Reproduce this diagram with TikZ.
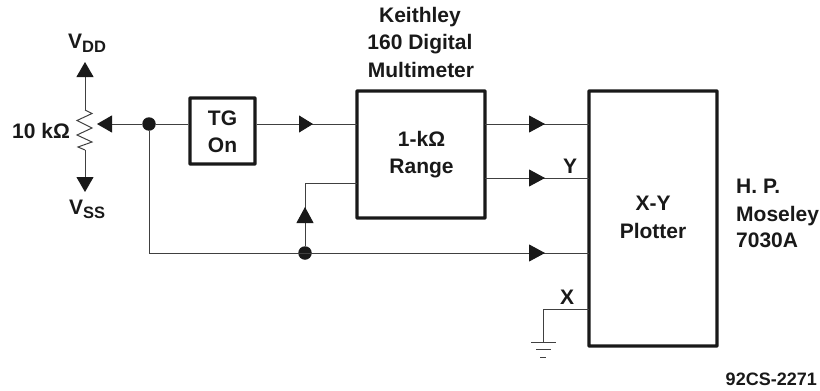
\documentclass[tikz,border=0pt]{standalone}
\usepackage{fontspec}
\setmainfont{Liberation Sans}
\usetikzlibrary{arrows.meta,calc}
\newfontfamily\regfont{Liberation Sans}
\newcommand{\Ohm}{{\regfont Ω}}
\newcommand{\Vsub}[1]{V\raisebox{-4.5pt}{\fontsize{16.5}{20}\selectfont\bfseries #1}}
\tikzset{
  wire/.style={line width=1pt,draw=black!75},
  blockbox/.style={draw=black!90,line width=3.2pt,inner sep=0pt,rounded corners=0.5pt},
  lbl/.style={font=\fontsize{21}{25}\selectfont\bfseries,text=black!90,inner sep=0pt,anchor=base},
  dotn/.style={circle,fill=black!90,draw=none,minimum size=13.5pt,inner sep=0pt},
  head/.style={wire,-{Triangle[length=#1,width=17pt,fill=black!90,color=black!90]}},
  head/.default=15pt
}
\begin{document}
\begin{tikzpicture}[x=1pt,y=-1pt]
\useasboundingbox (0,0) rectangle (820,391);
% boxes
\node[blockbox,minimum width=65pt,minimum height=66pt] (tg) at (222.5,131) {};
\node[blockbox,minimum width=128pt,minimum height=127pt] (range) at (421,154.5) {};
\node[blockbox,minimum width=128pt,minimum height=255pt] (plot) at (653,218.5) {};
% text
\node[lbl] (tga) at (222.5,125) {TG};
\node[lbl] (tgb) at (222.5,152) {On};
\node[lbl] (r1) at (421.5,146) {1-k\Ohm};
\node[lbl] (r2) at (421.5,173) {Range};
\node[lbl] (p1) at (653,210) {X-Y};
\node[lbl] (p2) at (653,238) {Plotter};
\node[lbl] (k1) at (420,22) {Keithley};
\node[lbl] (k2) at (420,49) {160 Digital};
\node[lbl] (k3) at (421,77) {Multimeter};
\node[lbl,anchor=base west] (h1) at (736,193) {H. P.};
\node[lbl,anchor=base west] (h2) at (736,221) {Moseley};
\node[lbl,anchor=base west] (h3) at (736,247) {7030A};
\node[lbl,anchor=base west] (vdd) at (68,48) {\Vsub{DD}};
\node[lbl,anchor=base west] (vss) at (69,214) {\Vsub{SS}};
\node[lbl,anchor=base west] (tenk) at (12,138) {10 k\Ohm};
\node[lbl] (yl) at (570,173) {Y};
\node[lbl] (xl) at (567,304) {X};
\node[lbl,anchor=base east,font=\fontsize{18}{22}\selectfont\bfseries] (code) at (817,385) {92CS-2271};
% junctions
\node[dotn] (j1) at (149,124) {};
\node[dotn] (j2) at (305,253) {};
% coordinates
\coordinate (rtop) at (85,110);
\coordinate (rbot) at (85,150);
\coordinate (vddtip) at (85,62);
\coordinate (vsstip) at (85,192);
\coordinate (wipe) at (97,124);
\coordinate (in1) at (357,124);
\coordinate (o1a) at (485,124);
\coordinate (o1b) at (589,124);
\coordinate (o2a) at (485,178);
\coordinate (o2b) at (589,178);
\coordinate (o3b) at (589,253);
\coordinate (fb) at (357,183);
\coordinate (xa) at (589,309);
\coordinate (gnd) at (543,342);
% resistor
\draw[wire] (rtop) -- (92,113.5) -- (77,120.5) -- (92,128) -- (77,135) -- (92,142) -- (78,147) -- (rbot);
% wires with arrowheads
\draw[head] (rtop) -- (vddtip);
\draw[head] (rbot) -- (vsstip);
\draw[wire] (j1) -- (tg.west |- j1);
\draw[head=15pt] (j1) -- (wipe);
\draw[wire] (tg.east |- in1) -- (in1);
\draw[head=14pt] (tg.east |- in1) -- (313,124);
\draw[wire] (o1a) -- (o1b);
\draw[head=16pt] (o1a) -- (545,124);
\draw[wire] (o2a) -- (o2b);
\draw[head=16pt] (o2a) -- (545,178);
\draw[wire] (j1) -- (j1 |- o3b) -- (o3b);
\draw[head=16pt] (j1 |- o3b) -- (545,253);
\draw[wire] (j2) -- (j2 |- fb) -- (fb);
\draw[head=16pt] (j2) -- (305,207);
% ground
\draw[wire] (xa) -- (xa -| gnd) -- (gnd);
\draw[wire] (531,342) -- (556,342);
\draw[wire] (536,349.5) -- (551,349.5);
\draw[wire] (540,357) -- (546,357);
\end{tikzpicture}
\end{document}
